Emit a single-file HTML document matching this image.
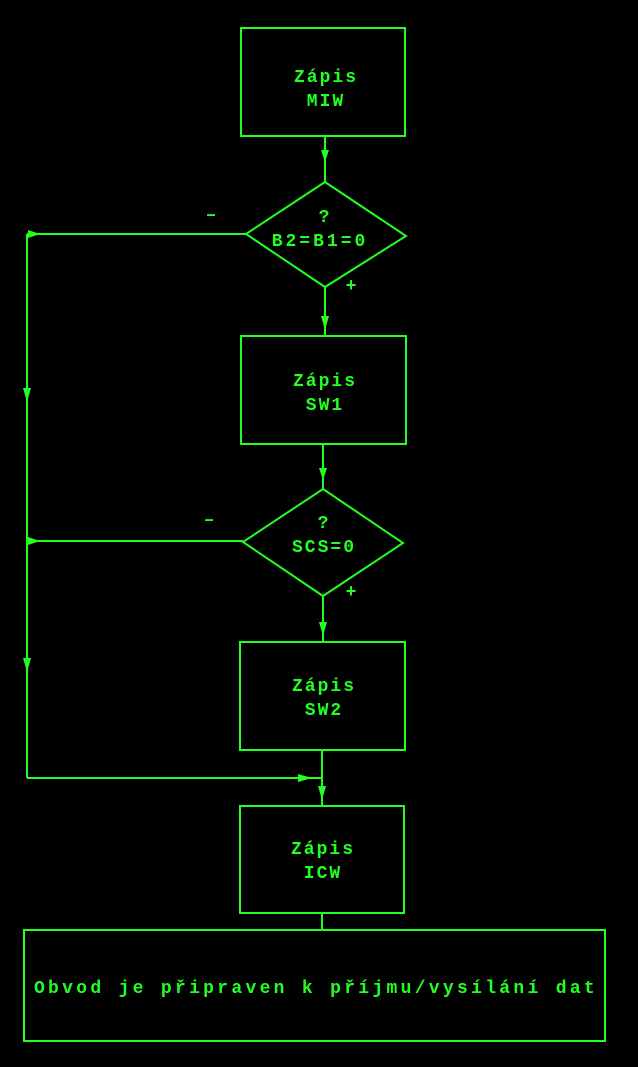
<!DOCTYPE html>
<html><head><style>
html,body{margin:0;padding:0;background:#000;}
svg{display:block}
text{font-family:"Liberation Mono",monospace;font-weight:bold;fill:#2f2;font-size:18px;text-anchor:middle;letter-spacing:2px}
</style></head><body>
<svg width="638" height="1067" viewBox="0 0 638 1067" xmlns="http://www.w3.org/2000/svg">
<g stroke="#2f2" stroke-width="2" fill="none">
<rect x="241" y="28" width="164" height="108"/>
<polygon points="325,182 406,236 325,287 246,234"/>
<rect x="241" y="336" width="165" height="108"/>
<polygon points="323,489 403,543 323,596 243,542"/>
<rect x="240" y="642" width="165" height="108"/>
<rect x="240" y="806" width="164" height="107"/>
<rect x="24" y="930" width="581" height="111"/>
<line x1="325" y1="136" x2="325" y2="182"/>
<line x1="325" y1="287" x2="325" y2="336"/>
<line x1="323" y1="444" x2="323" y2="489"/>
<line x1="323" y1="596" x2="323" y2="642"/>
<line x1="322" y1="750" x2="322" y2="806"/>
<line x1="322" y1="913" x2="322" y2="930"/>
<line x1="246" y1="234" x2="27" y2="234"/>
<line x1="243" y1="541" x2="27" y2="541"/>
<line x1="27" y1="234" x2="27" y2="778"/>
<line x1="27" y1="778" x2="322" y2="778"/>
</g>
<g fill="#2f2">
<polygon points="321,150 329,150 325,162"/>
<polygon points="321,316 329,316 325,330"/>
<polygon points="319,468 327,468 323,480"/>
<polygon points="319,622 327,622 323,636"/>
<polygon points="318,786 326,786 322,800"/>
<polygon points="23,388 31,388 27,402"/>
<polygon points="23,658 31,658 27,672"/>
<polygon points="28,230 28,238 40,234"/>
<polygon points="28,537 28,545 40,541"/>
<polygon points="298,774 298,782 312,778"/>
</g>
<text x="326" y="82">Zápis</text>
<text x="326" y="106">MIW</text>
<text x="325" y="222">?</text>
<text x="320" y="246" style="letter-spacing:3px">B2=B1=0</text>
<text x="325" y="386">Zápis</text>
<text x="325" y="410">SW1</text>
<text x="324" y="528">?</text>
<text x="324" y="552">SCS=0</text>
<text x="324" y="691">Zápis</text>
<text x="324" y="715">SW2</text>
<text x="323" y="854">Zápis</text>
<text x="323" y="878">ICW</text>
<text x="316" y="993" style="letter-spacing:3.3px">Obvod je připraven k příjmu/vysílání dat</text>
<text x="212" y="220">–</text>
<text x="210" y="525">–</text>
<text x="352" y="291">+</text>
<text x="352" y="597">+</text>
</svg>
</body></html>
